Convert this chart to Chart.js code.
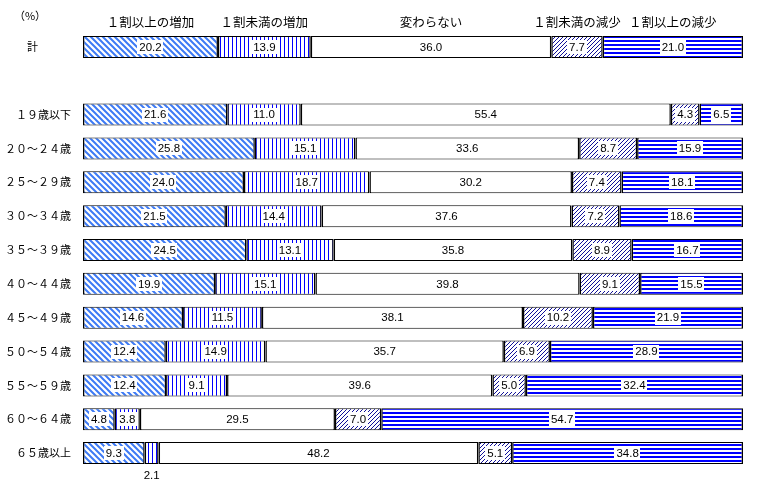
<!DOCTYPE html>
<html><head><meta charset="utf-8">
<script src="https://cdn.jsdelivr.net/npm/chart.js@4/dist/chart.umd.min.js"></script>
<style>html,body{margin:0;padding:0;background:#fff;}#wrap{width:765px;height:483px;}</style>
</head><body><div id="wrap"><canvas id="c" width="765" height="483"></canvas></div>
<script>
const categories = ['計　　　','', '１９歳以下','２０～２４歳','２５～２９歳','３０～３４歳','３５～３９歳','４０～４４歳','４５～４９歳','５０～５４歳','５５～５９歳','６０～６４歳','６５歳以上'];
const seriesNames = ['１割以上の増加','１割未満の増加','変わらない','１割未満の減少','１割以上の減少'];
const inc10    = [20.2, null, 21.6, 25.8, 24.0, 21.5, 24.5, 19.9, 14.6, 12.4, 12.4, 4.8, 9.3];
const incLess  = [13.9, null, 11.0, 15.1, 18.7, 14.4, 13.1, 15.1, 11.5, 14.9, 9.1, 3.8, 2.1];
const noChange = [36.0, null, 55.4, 33.6, 30.2, 37.6, 35.8, 39.8, 38.1, 35.7, 39.6, 29.5, 48.2];
const decLess  = [7.7, null, 4.3, 8.7, 7.4, 7.2, 8.9, 9.1, 10.2, 6.9, 5.0, 7.0, 5.1];
const dec10    = [21.0, null, 6.5, 15.9, 18.1, 18.6, 16.7, 15.5, 21.9, 28.9, 32.4, 54.7, 34.8];
const unitLabel = '（%）';

const series = [inc10, incLess, noChange, decLess, dec10];
const sums = categories.map((_, i) => series.reduce((a, s) => a + (s[i] || 0), 0));

function makePattern(kind) {
  const c = document.createElement('canvas');
  const x = c.getContext('2d');
  let w = 4, h = 4;
  if (kind === 'back') { w = 6; h = 6; }
  c.width = w; c.height = h;
  x.fillStyle = '#fff'; x.fillRect(0, 0, w, h);
  if (kind === 'back') {
    x.strokeStyle = '#3d7af5'; x.lineWidth = 2;
    x.beginPath();
    x.moveTo(-1, -1); x.lineTo(w + 1, h + 1);
    x.moveTo(-1, h - 1); x.lineTo(1, h + 1);
    x.moveTo(w - 1, -1); x.lineTo(w + 1, 1);
    x.stroke();
  } else if (kind === 'vert') {
    x.fillStyle = '#0000ff'; x.fillRect(0, 0, 1, h);
  } else if (kind === 'fwd') {
    x.fillStyle = '#10109a';
    for (let i = 0; i < w; i++) x.fillRect(w - 1 - i, i, 1, 1);
  } else if (kind === 'horiz') {
    x.fillStyle = '#0000ff'; x.fillRect(0, 0, w, 2);
  }
  const ctx = document.getElementById('c').getContext('2d');
  return ctx.createPattern(c, 'repeat');
}

const fills = [makePattern('back'), makePattern('vert'), '#ffffff', makePattern('fwd'), makePattern('horiz')];

const datasets = series.map((s, di) => ({
  label: seriesNames[di],
  data: s.map((v, i) => v == null ? null : v / sums[i] * 100),
  rawValues: s,
  backgroundColor: fills[di],
  borderColor: '#000',
  borderWidth: { left: 1.5, right: 1.5, top: 1, bottom: 1 },
  borderSkipped: false,
  barPercentage: 0.65,
  categoryPercentage: 1.0
}));

const valuePlugin = {
  id: 'vals',
  afterDatasetsDraw(chart) {
    const ctx = chart.ctx;
    ctx.save();
    ctx.font = '11.5px "Liberation Sans", Arial, sans-serif';
    ctx.textAlign = 'center';
    ctx.textBaseline = 'middle';
    chart.data.datasets.forEach((ds, di) => {
      const meta = chart.getDatasetMeta(di);
      meta.data.forEach((el, i) => {
        const v = ds.rawValues[i];
        if (v == null) return;
        const txt = v.toFixed(1);
        const left = Math.min(el.x, el.base), right = Math.max(el.x, el.base);
        const cx = (left + right) / 2;
        const tw = ctx.measureText(txt).width;
        if (tw + 4 > right - left) {
          ctx.fillStyle = '#000';
          ctx.fillText(txt, cx, el.y + 23);
          return;
        }
        if (di !== 2) {
          ctx.fillStyle = '#fff';
          ctx.fillRect(Math.round(cx - tw / 2 - 2), Math.round(el.y - 7), Math.round(tw + 4), 14);
        }
        ctx.fillStyle = '#000';
        ctx.fillText(txt, cx, el.y + 0.5);
      });
    });
    ctx.restore();
  }
};

const headPlugin = {
  id: 'heads',
  afterDraw(chart) {
    const ctx = chart.ctx;
    ctx.save();
    ctx.fillStyle = '#000';
    ctx.textBaseline = 'middle';
    ctx.textAlign = 'center';
    ctx.font = '11px "Noto Sans CJK JP", sans-serif';
    ctx.fillText(unitLabel, 30, 16);
    ctx.font = '12.5px "Noto Sans CJK JP", sans-serif';
    const ca = chart.chartArea;
    chart.data.datasets.forEach((ds, di) => {
      const el = chart.getDatasetMeta(di).data[0];
      let cx = (el.x + el.base) / 2;
      const tw = ctx.measureText(ds.label).width;
      if (cx + tw / 2 > ca.right) cx = ca.right - tw / 2;
      ctx.fillText(ds.label, cx, 22);
    });
    ctx.restore();
  }
};

new Chart(document.getElementById('c'), {
  type: 'bar',
  data: { labels: categories, datasets },
  options: {
    indexAxis: 'y',
    responsive: false,
    animation: false,
    layout: { padding: { top: 30, bottom: 13, right: 22, left: 0 } },
    plugins: { legend: { display: false }, tooltip: { enabled: false } },
    scales: {
      x: { stacked: true, min: 0, max: 100, display: false },
      y: {
        stacked: true,
        grid: { display: false, drawTicks: false },
        border: { display: false },
        ticks: { color: '#000', padding: 12, font: { family: '"Noto Sans CJK JP", sans-serif', size: 11 } },
        afterFit(scale) { scale.width = 83; scale.paddingTop = 0; scale.paddingBottom = 0; }
      }
    }
  },
  plugins: [valuePlugin, headPlugin]
});
</script></body></html>
